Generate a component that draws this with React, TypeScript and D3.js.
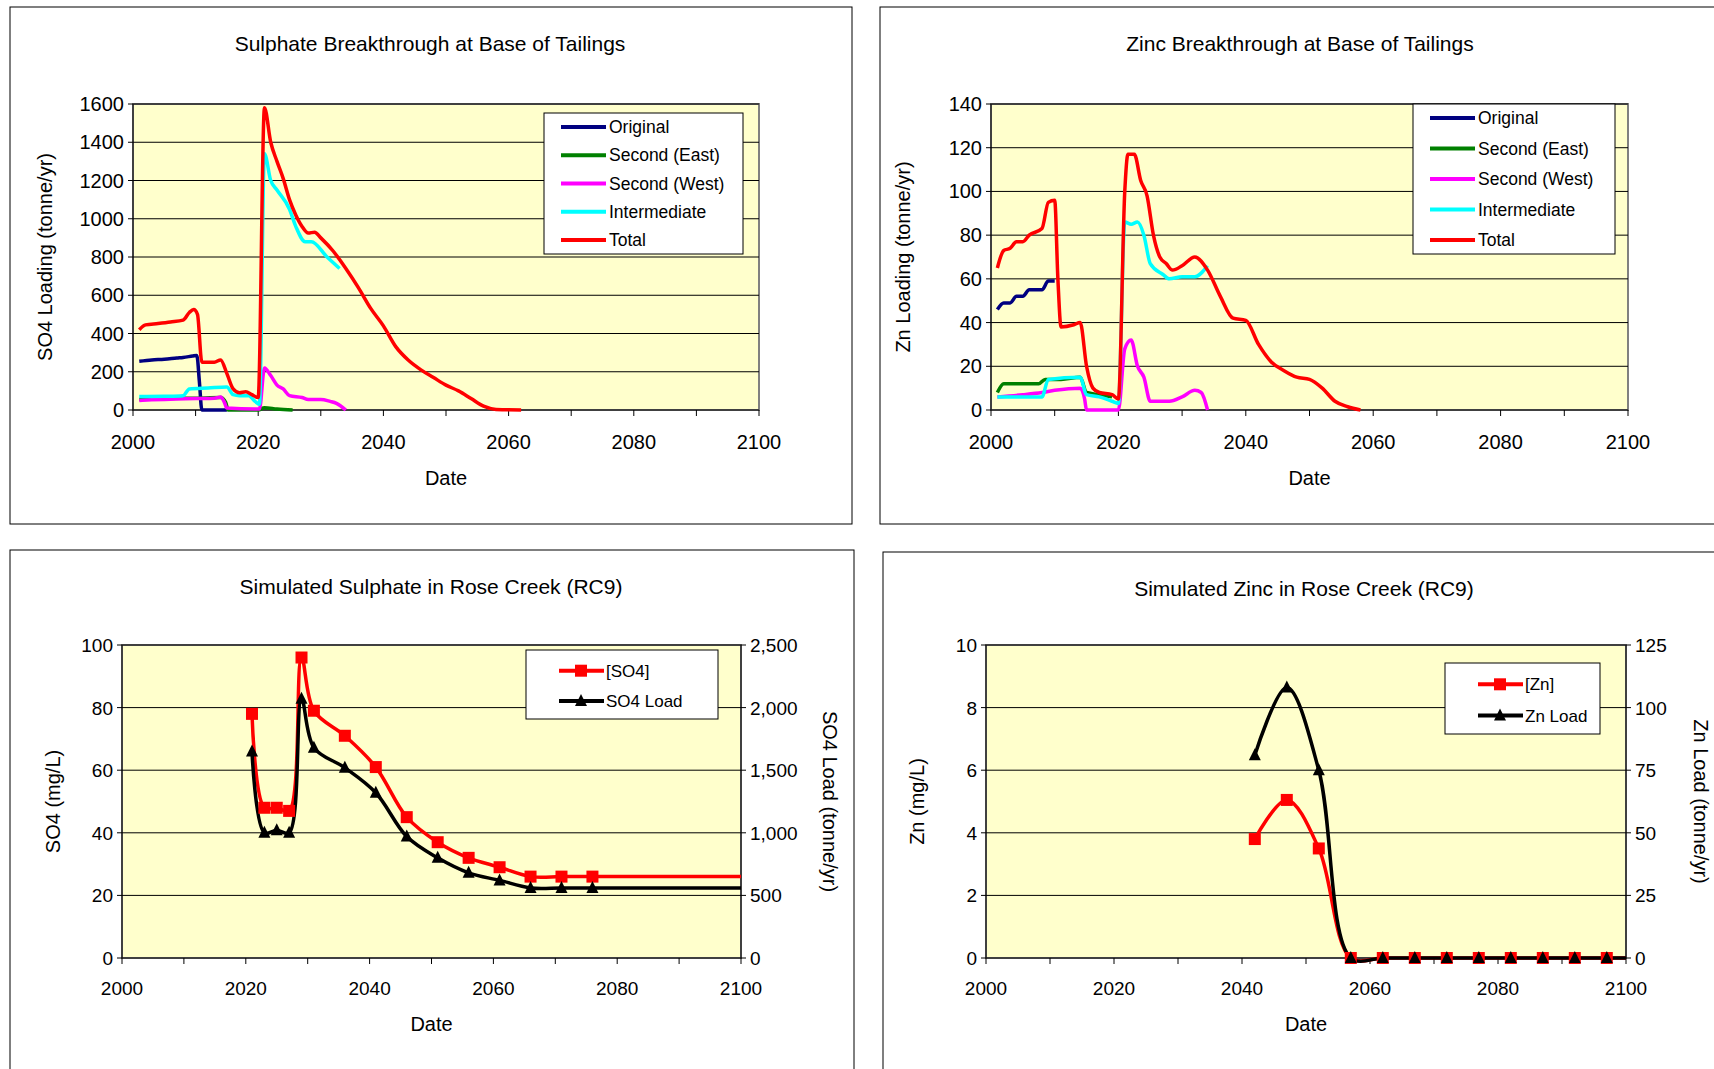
import React from "react";
import * as d3 from "d3";

type P = [number, number];

const so4Original: P[] = [[2001,255],[2003,262],[2005,265],[2007,272],[2008,275],[2009.5,282],[2010.2,285],[2010.6,150],[2011,0],[2015,0]];
const so4SecondEast: P[] = [[2001,55],[2005,60],[2010,62],[2014,65],[2014.8,40],[2015.2,0],[2020,0],[2021,12],[2023,5],[2025.5,0]];
const so4SecondWest: P[] = [[2001,50],[2003,53],[2006,56],[2010,60],[2013,62],[2014,68],[2014.6,40],[2015,10],[2019.5,5],[2020.2,5],[2021,220],[2022,180],[2023,130],[2024,110],[2025,75],[2027,65],[2028,55],[2030,55],[2031.5,45],[2032.5,35],[2034,0]];
const so4Intermediate: P[] = [[2001,70],[2005,72],[2008,75],[2009,110],[2012,115],[2015,120],[2016,80],[2017,75],[2018.5,75],[2019.5,45],[2020.2,30],[2021,1340],[2022,1200],[2023,1150],[2025,1050],[2026,960],[2027.5,880],[2028.5,880],[2031,800],[2033,740]];
const so4Total: P[] = [[2001,420],[2002,445],[2004,452],[2006,460],[2008,470],[2009,510],[2009.7,525],[2010.3,500],[2011,250],[2013,250],[2014,262],[2015,190],[2016,110],[2017,90],[2018,95],[2019,80],[2020,65],[2021,1580],[2022,1400],[2023,1300],[2024,1210],[2025,1100],[2026,1020],[2027,960],[2028,925],[2029,930],[2030,900],[2032,830],[2034,740],[2036,640],[2038,530],[2040,440],[2042,330],[2044,260],[2046,210],[2048,170],[2050,130],[2052,100],[2054,60],[2056,20],[2058,3],[2062,0]];

const znOriginal: P[] = [[2001,46],[2002,49],[2003,49],[2004,52],[2005,52],[2006,55],[2008,55],[2009,59],[2010,59]];
const znSecondEast: P[] = [[2001,8],[2002,12],[2005,12],[2007.5,12],[2008.5,14],[2011,14],[2014,15],[2015,8],[2017,7],[2019,6]];
const znSecondWest: P[] = [[2001,6],[2005,7],[2008,8],[2010,9],[2014,10],[2014.7,5],[2015,0],[2020,0],[2021,28],[2022,32],[2023,20],[2024,15],[2025,4],[2026,4],[2028,4],[2030,6],[2032,9],[2033,8],[2034,0]];
const znIntermediate: P[] = [[2001,6],[2008,6],[2009,14],[2014,15],[2015,7],[2017,6],[2019,4],[2020,3],[2021,86],[2022,85],[2023,86],[2024,80],[2025,67],[2027,62],[2028,60],[2030,61],[2032,61],[2034,66]];
const znTotal: P[] = [[2001,65],[2002,73],[2003,74],[2004,77],[2005,77],[2006,80],[2008,83],[2009,95],[2010,96],[2010.5,60],[2011,38],[2013,39],[2014,40],[2015,20],[2016,10],[2017,8],[2019,7],[2020,5],[2021,100],[2021.5,117],[2022.5,117],[2023.5,105],[2024.5,98],[2025.5,80],[2026.5,70],[2027.5,67],[2028.5,64],[2030,66],[2032,70],[2034,64],[2036,52],[2038,42],[2040,41],[2042,30],[2044,22],[2046,18],[2048,15],[2050,14],[2052,10],[2054,4],[2056,1.5],[2058,0]];

const rcSO4Conc: P[] = [[2021,78],[2023,48],[2025,48],[2027,47],[2029,96],[2031,79],[2036,71],[2041,61],[2046,45],[2051,37],[2056,32],[2061,29],[2066,26],[2071,26],[2076,26],[2100,26]];
const rcSO4Load: P[] = [[2021,1650],[2023,1000],[2025,1020],[2027,1000],[2029,2070],[2031,1680],[2036,1520],[2041,1320],[2046,970],[2051,800],[2056,680],[2061,620],[2066,560],[2071,560],[2076,560],[2100,560]];
const rcSO4MarkerCount = 15;
const rcZnConc: P[] = [[2042,3.8],[2047,5.05],[2052,3.5],[2057,0],[2062,0],[2067,0],[2072,0],[2077,0],[2082,0],[2087,0],[2092,0],[2097,0],[2100,0]];
const rcZnLoad: P[] = [[2042,81],[2047,108],[2052,75],[2057,0],[2062,0],[2067,0],[2072,0],[2077,0],[2082,0],[2087,0],[2092,0],[2097,0],[2100,0]];
const rcZnMarkerCount = 12;

const xTicks = [2000, 2020, 2040, 2060, 2080, 2100];
const FONT = "Liberation Sans, Arial, sans-serif";

interface Series { name: string; color: string; data: P[]; }

function TopPanel(props: { box: number[]; plot: number[]; title: string; titleX: number; ylabel: string; ymax: number; ystep: number; series: Series[]; legend: number[]; }) {
  const [bx, by, bw, bh] = props.box;
  const [px0, py0, px1, py1] = props.plot;
  const x = d3.scaleLinear().domain([2000, 2100]).range([px0, px1]);
  const y = d3.scaleLinear().domain([0, props.ymax]).range([py1, py0]);
  const line = d3.line<P>().x(d => x(d[0])).y(d => y(d[1])).curve(d3.curveMonotoneX);
  const yt = d3.range(0, props.ymax + 0.001, props.ystep);
  const [lx, ly, lw, lh] = props.legend;
  return (
    <g>
      <rect x={bx} y={by} width={bw} height={bh} fill="white" stroke="black" strokeWidth={1} />
      <text x={props.titleX} y={by + 44} textAnchor="middle" fontSize={21} fontFamily={FONT}>{props.title}</text>
      <rect x={px0} y={py0} width={px1 - px0} height={py1 - py0} fill="#ffffcc" stroke="#808080" strokeWidth={2} />
      {yt.map(t => <line key={t} x1={px0} x2={px1} y1={y(t)} y2={y(t)} stroke="black" strokeWidth={1} />)}
      <line x1={px0} x2={px0} y1={py0} y2={py1} stroke="black" />
      {yt.map(t => <g key={"y" + t}><line x1={px0 - 5} x2={px0} y1={y(t)} y2={y(t)} stroke="black" /><text x={px0 - 9} y={y(t) + 7} textAnchor="end" fontSize={20} fontFamily={FONT}>{t}</text></g>)}
      {d3.range(2000, 2101, 10).map(t => <line key={t} x1={x(t)} x2={x(t)} y1={py1} y2={py1 + 6} stroke="black" />)}
      {xTicks.map(t => <text key={t} x={x(t)} y={py1 + 39} textAnchor="middle" fontSize={20} fontFamily={FONT}>{t}</text>)}
      <text x={(px0 + px1) / 2} y={py1 + 75} textAnchor="middle" fontSize={20} fontFamily={FONT}>Date</text>
      <text transform={`translate(${px0 - 81},${(py0 + py1) / 2}) rotate(-90)`} textAnchor="middle" fontSize={20} fontFamily={FONT}>{props.ylabel}</text>
      {props.series.map(s => <path key={s.name} d={line(s.data) || ""} fill="none" stroke={s.color} strokeWidth={3.5} strokeLinejoin="round" />)}
      <rect x={lx} y={ly} width={lw} height={lh} fill="white" stroke="black" strokeWidth={1} />
      {props.series.map((s, i) => {
        const yy = ly + 14 + i * (lh - 28) / 4;
        return <g key={s.name}>
          <line x1={lx + 17} x2={lx + 62} y1={yy} y2={yy} stroke={s.color} strokeWidth={4} />
          <text x={lx + 65} y={yy + 6} fontSize={17.5} fontFamily={FONT}>{s.name}</text>
        </g>;
      })}
    </g>
  );
}

function Square({ cx, cy }: { cx: number; cy: number }) {
  return <rect x={cx - 6} y={cy - 6} width={12} height={12} fill="#ff0000" />;
}
function Tri({ cx, cy }: { cx: number; cy: number }) {
  return <path d={`M${cx},${cy - 7}L${cx + 6},${cy + 5}L${cx - 6},${cy + 5}Z`} fill="black" />;
}

function BottomPanel(props: { box: number[]; plot: number[]; title: string; titleX: number; ylabel: string; y2label: string; ymax: number; ystep: number; y2max: number; y2step: number; y2fmt: (n: number) => string; conc: P[]; load: P[]; nMarkers: number; cname: string; lname: string; legend: number[]; y2off: number; }) {
  const [bx, by, bw, bh] = props.box;
  const [px0, py0, px1, py1] = props.plot;
  const x = d3.scaleLinear().domain([2000, 2100]).range([px0, px1]);
  const y = d3.scaleLinear().domain([0, props.ymax]).range([py1, py0]);
  const y2 = d3.scaleLinear().domain([0, props.y2max]).range([py1, py0]);
  const l1 = d3.line<P>().x(d => x(d[0])).y(d => y(d[1])).curve(d3.curveCatmullRom.alpha(0.5));
  const l2 = d3.line<P>().x(d => x(d[0])).y(d => y2(d[1])).curve(d3.curveCatmullRom.alpha(0.5));
  const yt = d3.range(0, props.ymax + 0.001, props.ystep);
  const y2t = d3.range(0, props.y2max + 0.001, props.y2step);
  const [lx, ly, lw, lh] = props.legend;
  return (
    <g>
      <rect x={bx} y={by} width={bw} height={bh} fill="white" stroke="black" strokeWidth={1} />
      <text x={props.titleX} y={by + 44} textAnchor="middle" fontSize={21} fontFamily={FONT}>{props.title}</text>
      <rect x={px0} y={py0} width={px1 - px0} height={py1 - py0} fill="#ffffcc" stroke="#808080" strokeWidth={2} />
      {yt.map(t => <line key={t} x1={px0} x2={px1} y1={y(t)} y2={y(t)} stroke="black" strokeWidth={1} />)}
      <line x1={px0} x2={px0} y1={py0} y2={py1} stroke="black" />
      <line x1={px1} x2={px1} y1={py0} y2={py1} stroke="black" />
      {yt.map(t => <g key={"y" + t}><line x1={px0 - 5} x2={px0} y1={y(t)} y2={y(t)} stroke="black" /><text x={px0 - 9} y={y(t) + 7} textAnchor="end" fontSize={19} fontFamily={FONT}>{t}</text></g>)}
      {y2t.map(t => <g key={"z" + t}><line x1={px1} x2={px1 + 5} y1={y2(t)} y2={y2(t)} stroke="black" /><text x={px1 + 9} y={y2(t) + 7} textAnchor="start" fontSize={19} fontFamily={FONT}>{props.y2fmt(t)}</text></g>)}
      {d3.range(2000, 2101, 10).map(t => <line key={t} x1={x(t)} x2={x(t)} y1={py1} y2={py1 + 6} stroke="black" />)}
      {xTicks.map(t => <text key={t} x={x(t)} y={py1 + 37} textAnchor="middle" fontSize={19} fontFamily={FONT}>{t}</text>)}
      <text x={(px0 + px1) / 2} y={py1 + 73} textAnchor="middle" fontSize={20} fontFamily={FONT}>Date</text>
      <text transform={`translate(${px0 - 62},${(py0 + py1) / 2}) rotate(-90)`} textAnchor="middle" fontSize={20} fontFamily={FONT}>{props.ylabel}</text>
      <text transform={`translate(${px1 + props.y2off},${(py0 + py1) / 2}) rotate(90)`} textAnchor="middle" fontSize={20} fontFamily={FONT}>{props.y2label}</text>
      <path d={l1(props.conc) || ""} fill="none" stroke="#ff0000" strokeWidth={3.5} />
      <path d={l2(props.load) || ""} fill="none" stroke="black" strokeWidth={3.5} />
      {props.conc.slice(0, props.nMarkers).map((d, i) => <Square key={i} cx={x(d[0])} cy={y(d[1])} />)}
      {props.load.slice(0, props.nMarkers).map((d, i) => <Tri key={i} cx={x(d[0])} cy={y2(d[1])} />)}
      <rect x={lx} y={ly} width={lw} height={lh} fill="white" stroke="black" strokeWidth={1} />
      <line x1={lx + 33} x2={lx + 78} y1={ly + lh * 0.3} y2={ly + lh * 0.3} stroke="#ff0000" strokeWidth={4} />
      <Square cx={lx + 55} cy={ly + lh * 0.3} />
      <text x={lx + 80} y={ly + lh * 0.3 + 6} fontSize={17} fontFamily={FONT}>{props.cname}</text>
      <line x1={lx + 33} x2={lx + 78} y1={ly + lh * 0.74} y2={ly + lh * 0.74} stroke="black" strokeWidth={4} />
      <Tri cx={lx + 55} cy={ly + lh * 0.74} />
      <text x={lx + 80} y={ly + lh * 0.74 + 6} fontSize={17} fontFamily={FONT}>{props.lname}</text>
    </g>
  );
}

const topColors = ["#000080", "#008000", "#ff00ff", "#00ffff", "#ff0000"];
const names = ["Original", "Second (East)", "Second (West)", "Intermediate", "Total"];

export default function App() {
  const so4 = [so4Original, so4SecondEast, so4SecondWest, so4Intermediate, so4Total].map((d, i) => ({ name: names[i], color: topColors[i], data: d }));
  const zn = [znOriginal, znSecondEast, znSecondWest, znIntermediate, znTotal].map((d, i) => ({ name: names[i], color: topColors[i], data: d }));
  const fmt = d3.format(",");
  return (
    <svg width={1714} height={1069} style={{ position: "absolute", left: 0, top: 0, background: "white" }}>
      <rect width={1714} height={1069} fill="white" />
      <TopPanel box={[10, 7, 842, 517]} plot={[133, 104, 759, 410]} title="Sulphate Breakthrough at Base of Tailings" titleX={430} ylabel="SO4 Loading (tonne/yr)" ymax={1600} ystep={200} series={so4} legend={[544, 113, 199, 141]} />
      <TopPanel box={[880, 7, 850, 517]} plot={[991, 104, 1628, 410]} title="Zinc Breakthrough at Base of Tailings" titleX={1300} ylabel="Zn Loading (tonne/yr)" ymax={140} ystep={20} series={zn} legend={[1413, 104, 202, 150]} />
      <BottomPanel box={[10, 550, 844, 530]} plot={[122, 645, 741, 958]} title="Simulated Sulphate in Rose Creek (RC9)" titleX={431} ylabel="SO4 (mg/L)" y2label="SO4 Load (tonne/yr)" ymax={100} ystep={20} y2max={2500} y2step={500} y2fmt={fmt} conc={rcSO4Conc} load={rcSO4Load} nMarkers={rcSO4MarkerCount} cname="[SO4]" lname="SO4 Load" legend={[526, 650, 192, 69]} y2off={82} />
      <BottomPanel box={[883, 552, 850, 530]} plot={[986, 645, 1626, 958]} title="Simulated Zinc in Rose Creek (RC9)" titleX={1304} ylabel="Zn (mg/L)" y2label="Zn Load (tonne/yr)" ymax={10} ystep={2} y2max={125} y2step={25} y2fmt={fmt} conc={rcZnConc} load={rcZnLoad} nMarkers={rcZnMarkerCount} cname="[Zn]" lname="Zn Load" legend={[1445, 663, 155, 71]} y2off={68} />
    </svg>
  );
}
